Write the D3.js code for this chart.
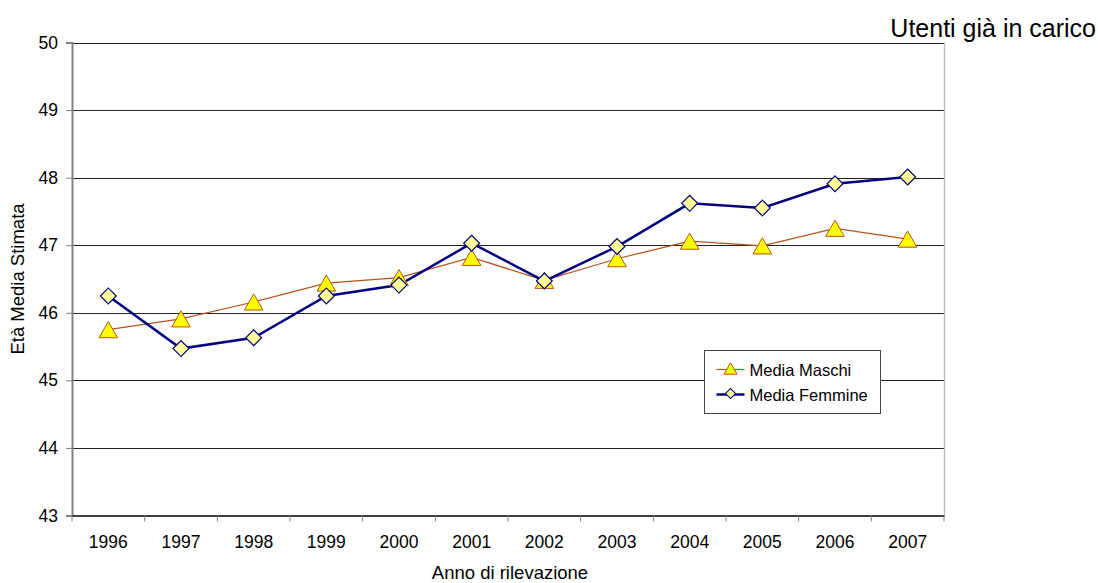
<!DOCTYPE html>
<html><head><meta charset="utf-8">
<script src="https://cdn.jsdelivr.net/npm/d3@7"></script>
<style>body{margin:0;background:#fff;}svg{display:block;font-family:"Liberation Sans",Arial,sans-serif;}</style>
</head><body>
<svg id="c" width="1098" height="583"></svg>
<script>
const years = ["1996","1997","1998","1999","2000","2001","2002","2003","2004","2005","2006","2007"];
const maschi = [45.75,45.91,46.16,46.44,46.52,46.82,46.48,46.80,47.06,46.99,47.25,47.09];
const femmine = [46.25,45.47,45.63,46.25,46.41,47.03,46.47,46.98,47.62,47.55,47.91,48.01];
const yTicks = [43,44,45,46,47,48,49,50];

const FONT = "Liberation Sans, Arial, sans-serif";
const svg = d3.select("#c");
const L=72, R=944, T=42.5, B=515.5;
const x = d3.scaleBand().domain(years).range([L,R]);
const y = d3.scaleLinear().domain([43,50]).range([B,T]);

// gridlines
svg.append("g").selectAll("line").data(yTicks.filter(d=>d>43)).join("line")
  .attr("x1",L).attr("x2",R).attr("y1",d=>Math.round(y(d))+0.5).attr("y2",d=>Math.round(y(d))+0.5)
  .attr("stroke","#222").attr("stroke-width",1);
// right border
svg.append("line").attr("x1",R+0.5).attr("x2",R+0.5).attr("y1",T).attr("y2",B).attr("stroke","#c0c0c0").attr("stroke-width",1.5);

// y axis
const ya = svg.append("g").attr("transform",`translate(${L},0)`)
  .call(d3.axisLeft(y).tickValues(yTicks).tickSize(6).tickPadding(8).tickFormat(d3.format("d")));
ya.select(".domain").attr("stroke","#808080").attr("stroke-width",2);
ya.selectAll(".tick line").attr("stroke","#808080");
ya.selectAll("text").attr("font-size",17.5).attr("fill","#000").attr("font-family",FONT);

// x axis
const xa = svg.append("g").attr("transform",`translate(0,${B})`)
  .call(d3.axisBottom(x).tickSize(0).tickPadding(20));
xa.select(".domain").attr("stroke","#000").attr("stroke-width",1.5);
xa.selectAll("text").attr("font-size",17.5).attr("fill","#000").attr("font-family",FONT);
const bounds = [L].concat(years.map(d=>x(d)+x.bandwidth()));
svg.append("g").selectAll("line").data(bounds).join("line")
  .attr("x1",d=>d).attr("x2",d=>d).attr("y1",B).attr("y2",B+6).attr("stroke","#808080").attr("stroke-width",1);

const cx = d=>x(d)+x.bandwidth()/2;
const line = d3.line().x((d,i)=>cx(years[i])).y(d=>y(d));

// lines
svg.append("path").datum(maschi).attr("d",line).attr("fill","none").attr("stroke","#B5521B").attr("stroke-width",1.2);
svg.append("path").datum(femmine).attr("d",line).attr("fill","none").attr("stroke","#000080").attr("stroke-width",2.5);

const triSize = 150;
const triOff = Math.sqrt(triSize/(Math.sqrt(3)*3))/2;
const tri = d3.symbol().type(d3.symbolTriangle).size(triSize);
const dia = d3.symbol().type(d3.symbolSquare).size(125);
svg.append("g").selectAll("path").data(maschi).join("path")
  .attr("d",tri).attr("transform",(d,i)=>`translate(${cx(years[i])},${y(d)+triOff})`)
  .attr("fill","#FFFF00").attr("stroke","#B5521B").attr("stroke-width",1);
svg.append("g").selectAll("path").data(femmine).join("path")
  .attr("d",dia).attr("transform",(d,i)=>`translate(${cx(years[i])},${y(d)}) rotate(45)`)
  .attr("fill","#FFFF99").attr("stroke","#000080").attr("stroke-width",1.2);

// legend
const lg = svg.append("g").attr("transform","translate(704.5,350.5)");
lg.append("rect").attr("width",176).attr("height",63).attr("fill","#fff").attr("stroke","#444").attr("stroke-width",1);
const items = [
  {name:"Media Maschi",c:"#B5521B",w:1.2,f:"#FFFF00"},
  {name:"Media Femmine",c:"#000080",w:2.5,f:"#FFFF99"}];
items.forEach((it,i)=>{
  const yy = 19+i*25;
  lg.append("line").attr("x1",12).attr("x2",40).attr("y1",yy).attr("y2",yy).attr("stroke",it.c).attr("stroke-width",it.w);
  const sz = i===0?75:50;
  const sym = d3.symbol().type(i===0?d3.symbolTriangle:d3.symbolSquare).size(sz)();
  const off = i===0?Math.sqrt(sz/(Math.sqrt(3)*3))/2:0;
  lg.append("path").attr("d",sym).attr("transform",`translate(26,${yy-1+off}) rotate(${i===0?0:45})`)
    .attr("fill",it.f).attr("stroke",it.c).attr("stroke-width",1);
  lg.append("text").attr("x",45).attr("y",yy+6).attr("font-size",16.5).attr("font-family",FONT).text(it.name);
});

// titles
svg.append("text").attr("x",1096).attr("y",37).attr("text-anchor","end").attr("font-size",25).attr("font-family",FONT).text("Utenti già in carico");
svg.append("text").attr("transform",`translate(24,279) rotate(-90)`).attr("text-anchor","middle").attr("font-size",18.5).attr("font-family",FONT).text("Età Media Stimata");
svg.append("text").attr("x",(L+R)/2+2).attr("y",579).attr("text-anchor","middle").attr("font-size",18.5).attr("font-family",FONT).text("Anno di rilevazione");
</script>
</body></html>
